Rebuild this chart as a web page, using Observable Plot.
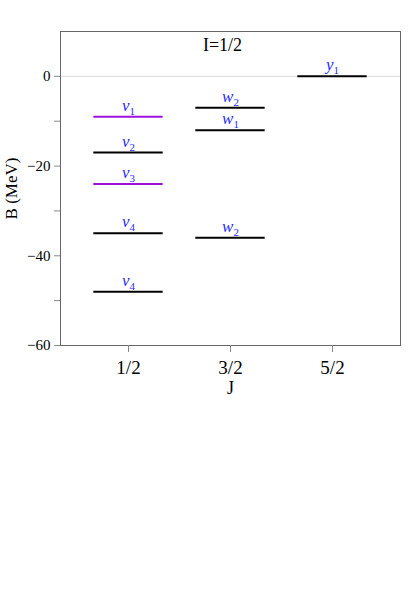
<!DOCTYPE html>
<html><head><meta charset="utf-8">
<script src="https://cdn.jsdelivr.net/npm/d3@7"></script>
<script src="https://cdn.jsdelivr.net/npm/@observablehq/plot@0.6"></script>
<style>
body{margin:0;background:#fff}
#chart svg{font-family:"Liberation Serif","Times New Roman",serif}
</style>
</head><body><div id="chart"></div>
<script>
// J value index (1 -> 1/2, 2 -> 3/2, 3 -> 5/2)
const jIndex = [1, 1, 1, 1, 1, 2, 2, 2, 3];
const jLabels = ["1/2", "3/2", "5/2"];
// binding energies B (MeV)
const energies = [-9, -17, -24, -35, -48, -7, -12, -36, 0];
const stateLetters = ["v", "v", "v", "v", "v", "w", "w", "w", "y"];
const stateSubs = ["1", "2", "3", "4", "4", "2", "1", "2", "1"];
const lineKinds = ["purple", "black", "purple", "black", "black", "black", "black", "black", "black"];
const yTicks = [-60, -50, -40, -30, -20, -10, 0];
const titleText = ["I=1/2"];
const zeroLine = [0];

const rows = jIndex.map((j, i) => ({j, e: energies[i], name: stateLetters[i] + stateSubs[i], kind: lineKinds[i]}));
const half = 0.34;
const colorOf = {purple: "#a010dc", black: "#000"};
const minus = d => d < 0 ? "\u2212" + (-d) : String(d);

const plot = Plot.plot({
  width: 415,
  height: 400,
  marginLeft: 60,
  marginRight: 15,
  marginTop: 31,
  marginBottom: 55,
  style: {fontSize: "16px", fontFamily: "Liberation Serif, serif", background: "#fff"},
  x: {type: "linear", domain: [1/3, 11/3]},
  y: {domain: [-60, 10]},
  marks: [
    Plot.ruleY(zeroLine, {stroke: "#d8d8d8", strokeWidth: 1}),
    Plot.frame({stroke: "#666", strokeWidth: 1}),
    Plot.axisY({ticks: yTicks, tickFormat: d => d % 20 === 0 ? minus(d) : "", tickSize: 6, tickPadding: 4,
      stroke: "#888", label: null, fontSize: 15}),
    Plot.axisY({ticks: [], label: "B (MeV)", labelAnchor: "center", labelArrow: "none", labelOffset: 56, fontSize: 17}),
    Plot.axisX({ticks: [1, 2, 3], tickFormat: d => jLabels[d - 1], tickSize: 7, tickPadding: 8,
      stroke: "#888", label: null, fontSize: 19}),
    Plot.axisX({ticks: [], label: "J", labelAnchor: "center", labelArrow: "none", labelOffset: 48, fontSize: 18}),
    Plot.ruleY(rows, {y: "e", x1: d => d.j - half, x2: d => d.j + half, stroke: d => colorOf[d.kind], strokeWidth: 2}),
    Plot.text(rows, {x: "j", y: "e", text: "name", fill: "#2a2aff", fontSize: 17, dy: -11.5, textAnchor: "middle"}),
    Plot.text(titleText, {frameAnchor: "top", text: d => d, dx: -8, dy: 7, lineAnchor: "top", fontSize: 18, fill: "#000"})
  ]
});
document.getElementById("chart").appendChild(plot);

d3.select(plot).selectAll("text").filter(function() { return /^[vwy]\d$/.test(this.textContent); }).each(function() {
  const t = this.textContent;
  const el = d3.select(this);
  el.text(null);
  el.append("tspan").attr("font-style", "italic").text(t[0]);
  el.append("tspan").attr("font-size", 11).attr("dy", 4).text(t[1]);
});
</script>
</body></html>
